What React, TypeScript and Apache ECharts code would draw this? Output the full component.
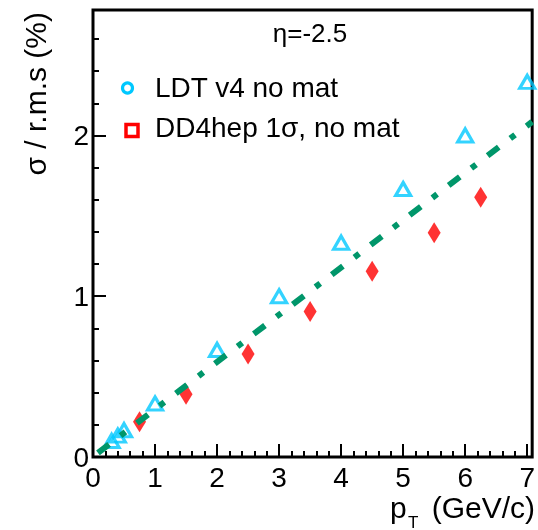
import React, { useEffect, useRef } from 'react';
import * as echarts from 'echarts';

// LDT v4 no mat (open cyan triangles)
const ldtPt = [0.3, 0.4, 0.5, 1, 2, 3, 4, 5, 6, 7];
const ldtSigma = [0.1, 0.133, 0.167, 0.333, 0.666, 1.0, 1.333, 1.667, 2.0, 2.333];
// DD4hep 1 sigma, no mat (filled red diamonds)
const ddPt = [0.75, 1.5, 2.5, 3.5, 4.5, 5.5, 6.25];
const ddSigma = [0.22, 0.39, 0.64, 0.905, 1.155, 1.395, 1.615];
// linear fit (green dash-dot)
const fitPt = [0.08, 7.08];
const fitSigma = [0.026, 2.085];
// axis tick labels
const xTickLabels = [0, 1, 2, 3, 4, 5, 6, 7];
const yTickLabels = [0, 1, 2];

const FONT = "'Liberation Sans', Arial, Helvetica, sans-serif";
const CYAN = '#00c8ff';
const RED = '#ff0000';
const GREEN = '#00966a';

const X_MAX = 7.08;
const Y_MAX = 2.78;

export default function App() {
  const ref = useRef<HTMLDivElement>(null);
  useEffect(() => {
    if (!ref.current) return;
    const chart = echarts.init(ref.current, undefined, { renderer: 'svg' });
    const grid = { left: 93, right: 4, top: 10, bottom: 73 };
    const fmt = (list: number[]) => (v: number) =>
      list.some((t) => Math.abs(t - v) < 1e-9) ? String(v) : '';
    chart.setOption({
      animation: false,
      grid: { ...grid, show: true, borderColor: '#000', borderWidth: 3, backgroundColor: 'transparent' },
      xAxis: [
        {
          type: 'value', min: 0, max: X_MAX, interval: 1, position: 'bottom',
          axisLine: { show: false },
          axisTick: { show: true, inside: true, length: 13, lineStyle: { color: '#000', width: 2 } },
          splitLine: { show: false },
          axisLabel: { formatter: fmt(xTickLabels), margin: 6, color: '#000', fontSize: 28, fontFamily: FONT },
        },
        {
          type: 'value', min: 0, max: X_MAX, interval: 0.2, position: 'bottom',
          axisLine: { show: false },
          axisTick: { show: true, inside: true, length: 6, lineStyle: { color: '#000', width: 2 } },
          splitLine: { show: false },
          axisLabel: { show: false },
        },
      ],
      yAxis: [
        {
          type: 'value', min: 0, max: Y_MAX, interval: 1, position: 'left',
          axisLine: { show: false },
          axisTick: { show: true, inside: true, length: 13, lineStyle: { color: '#000', width: 2 } },
          splitLine: { show: false },
          axisLabel: { formatter: fmt(yTickLabels), margin: 4, color: '#000', fontSize: 28, fontFamily: FONT },
        },
        {
          type: 'value', min: 0, max: Y_MAX, interval: 0.2, position: 'left',
          axisLine: { show: false },
          axisTick: { show: true, inside: true, length: 6, lineStyle: { color: '#000', width: 2 } },
          splitLine: { show: false },
          axisLabel: { show: false },
        },
      ],
      series: [
        {
          name: 'LDT v4 no mat',
          type: 'scatter', xAxisIndex: 0, yAxisIndex: 0,
          data: ldtPt.map((x, i) => [x, ldtSigma[i]]),
          symbol: 'triangle', symbolSize: [15, 13],
          itemStyle: { color: 'none', borderColor: CYAN, borderWidth: 3.2 },
        },
        {
          name: 'DD4hep 1σ, no mat',
          type: 'scatter', xAxisIndex: 0, yAxisIndex: 0,
          data: ddPt.map((x, i) => [x, ddSigma[i]]),
          symbol: 'diamond', symbolSize: [13, 21],
          itemStyle: { color: RED },
        },
        {
          name: 'fit',
          type: 'line', xAxisIndex: 0, yAxisIndex: 0,
          data: fitPt.map((x, i) => [x, fitSigma[i]]),
          showSymbol: false, symbol: 'none',
          lineStyle: { color: GREEN, width: 6, type: [14, 14.5, 6, 14.5] },
        },
      ],
      graphic: [
        { type: 'text', x: 310, y: 33, style: { text: 'η=-2.5', font: `26px ${FONT}`, fill: '#000', align: 'center', verticalAlign: 'middle' } },
        { type: 'circle', shape: { cx: 127.5, cy: 88, r: 5 }, style: { fill: 'none', stroke: CYAN, lineWidth: 3.2 } },
        { type: 'rect', shape: { x: 126, y: 124.5, width: 12, height: 12 }, style: { fill: 'none', stroke: RED, lineWidth: 3.5 } },
        { type: 'text', x: 155, y: 87, style: { text: 'LDT v4 no mat', font: `28px ${FONT}`, fill: '#000', align: 'left', verticalAlign: 'middle' } },
        { type: 'text', x: 155, y: 127.5, style: { text: 'DD4hep 1σ, no mat', font: `28px ${FONT}`, fill: '#000', align: 'left', verticalAlign: 'middle' } },
        { type: 'text', x: 35, y: 12, rotation: Math.PI / 2, style: { text: 'σ / r.m.s (%)', font: `30px ${FONT}`, fill: '#000', align: 'right', verticalAlign: 'middle' } },
        { type: 'text', x: 390, y: 507, style: { text: 'p', font: `30px ${FONT}`, fill: '#000', align: 'left', verticalAlign: 'middle' } },
        { type: 'text', x: 408, y: 522, style: { text: 'T', font: `17px ${FONT}`, fill: '#000', align: 'left', verticalAlign: 'middle' } },
        { type: 'text', x: 535, y: 507, style: { text: '(GeV/c)', font: `30px ${FONT}`, fill: '#000', align: 'right', verticalAlign: 'middle' } },
      ],
    });
    return () => chart.dispose();
  }, []);
  return <div ref={ref} style={{ position: 'fixed', left: 0, top: 0, width: 538, height: 530 }} />;
}
